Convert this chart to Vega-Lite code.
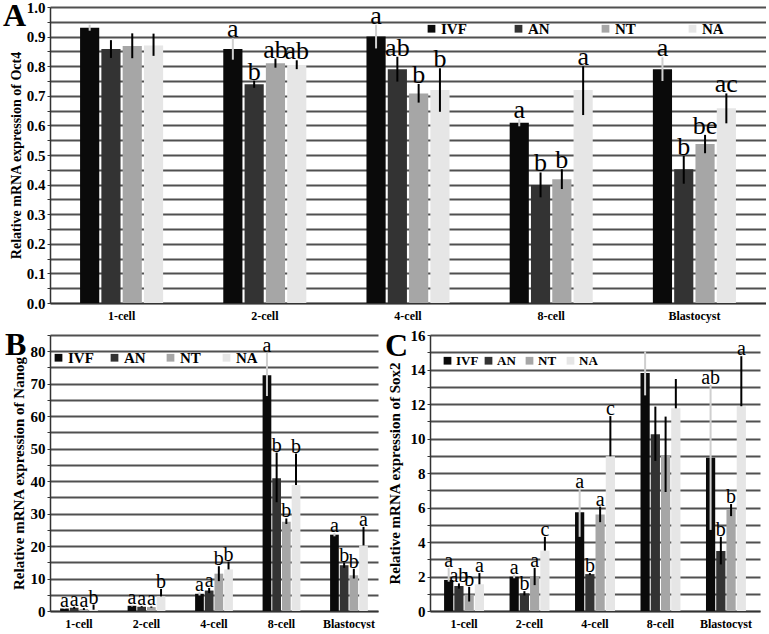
{
"$schema": "https://vega.github.io/schema/vega-lite/v6.json",
"background": "white",
"padding": {"left": 3, "top": 0, "right": 0, "bottom": 0},
"spacing": 7,
"resolve": {"scale": {"color": "independent", "xOffset": "independent"}, "legend": {"color": "independent"}},
"datasets": {
"oct4": [
{"stage":"1-cell","group":"IVF","value":0.93,"lo":0.92,"hi":0.94,"label":""},
{"stage":"1-cell","group":"AN","value":0.858,"lo":0.828,"hi":0.888,"label":""},
{"stage":"1-cell","group":"NT","value":0.868,"lo":0.827,"hi":0.911,"label":""},
{"stage":"1-cell","group":"NA","value":0.87,"lo":0.835,"hi":0.91,"label":""},
{"stage":"2-cell","group":"IVF","value":0.858,"lo":0.822,"hi":0.895,"label":"a"},
{"stage":"2-cell","group":"AN","value":0.739,"lo":0.727,"hi":0.751,"label":"b"},
{"stage":"2-cell","group":"NT","value":0.81,"lo":0.795,"hi":0.826,"label":"ab"},
{"stage":"2-cell","group":"NA","value":0.804,"lo":0.79,"hi":0.82,"label":"ab"},
{"stage":"4-cell","group":"IVF","value":0.9,"lo":0.86,"hi":0.94,"label":"a"},
{"stage":"4-cell","group":"AN","value":0.79,"lo":0.748,"hi":0.832,"label":"ab"},
{"stage":"4-cell","group":"NT","value":0.708,"lo":0.677,"hi":0.74,"label":"b"},
{"stage":"4-cell","group":"NA","value":0.72,"lo":0.646,"hi":0.793,"label":"b"},
{"stage":"8-cell","group":"IVF","value":0.609,"lo":0.597,"hi":0.621,"label":"a"},
{"stage":"8-cell","group":"AN","value":0.399,"lo":0.357,"hi":0.441,"label":"b"},
{"stage":"8-cell","group":"NT","value":0.418,"lo":0.385,"hi":0.452,"label":"b"},
{"stage":"8-cell","group":"NA","value":0.72,"lo":0.635,"hi":0.8,"label":"a"},
{"stage":"Blastocyst","group":"IVF","value":0.79,"lo":0.75,"hi":0.83,"label":"a"},
{"stage":"Blastocyst","group":"AN","value":0.452,"lo":0.403,"hi":0.497,"label":"b"},
{"stage":"Blastocyst","group":"NT","value":0.537,"lo":0.506,"hi":0.568,"label":"be"},
{"stage":"Blastocyst","group":"NA","value":0.658,"lo":0.607,"hi":0.708,"label":"ac"}
],
"nanog": [
{"stage":"1-cell","group":"IVF","value":0.8,"lo":0.6,"hi":1.0,"label":"a"},
{"stage":"1-cell","group":"AN","value":1.0,"lo":0.7,"hi":1.3,"label":"a"},
{"stage":"1-cell","group":"NT","value":0.6,"lo":0.3,"hi":0.9,"label":"a"},
{"stage":"1-cell","group":"NA","value":0.4,"lo":0.4,"hi":2.0,"label":"b"},
{"stage":"2-cell","group":"IVF","value":1.6,"lo":1.4,"hi":1.8,"label":"a"},
{"stage":"2-cell","group":"AN","value":1.3,"lo":1.1,"hi":1.5,"label":"a"},
{"stage":"2-cell","group":"NT","value":1.2,"lo":1.0,"hi":1.4,"label":"a"},
{"stage":"2-cell","group":"NA","value":4.5,"lo":4.5,"hi":6.8,"label":"b"},
{"stage":"4-cell","group":"IVF","value":5.3,"lo":4.8,"hi":5.8,"label":"a"},
{"stage":"4-cell","group":"AN","value":6.3,"lo":5.5,"hi":7.1,"label":"a"},
{"stage":"4-cell","group":"NT","value":11.5,"lo":9.2,"hi":13.8,"label":"b"},
{"stage":"4-cell","group":"NA","value":12.8,"lo":12.8,"hi":15.2,"label":"b"},
{"stage":"8-cell","group":"IVF","value":72.6,"lo":66.2,"hi":79.5,"label":"a"},
{"stage":"8-cell","group":"AN","value":40.9,"lo":33.5,"hi":48.8,"label":"b"},
{"stage":"8-cell","group":"NT","value":27.5,"lo":26.8,"hi":28.5,"label":"b"},
{"stage":"8-cell","group":"NA","value":38.8,"lo":38.8,"hi":48.5,"label":"b"},
{"stage":"Blastocyst","group":"IVF","value":23.5,"lo":23.0,"hi":24.0,"label":"a"},
{"stage":"Blastocyst","group":"AN","value":14.1,"lo":13.3,"hi":14.9,"label":"b"},
{"stage":"Blastocyst","group":"NT","value":11.0,"lo":10.0,"hi":13.0,"label":"b"},
{"stage":"Blastocyst","group":"NA","value":20.2,"lo":20.2,"hi":25.9,"label":"a"}
],
"sox2": [
{"stage":"1-cell","group":"IVF","value":1.8,"lo":1.7,"hi":2.5,"label":"a"},
{"stage":"1-cell","group":"AN","value":1.45,"lo":1.3,"hi":1.6,"label":"ab"},
{"stage":"1-cell","group":"NT","value":0.95,"lo":0.55,"hi":1.4,"label":"b"},
{"stage":"1-cell","group":"NA","value":1.55,"lo":1.55,"hi":2.2,"label":"a"},
{"stage":"2-cell","group":"IVF","value":1.99,"lo":1.9,"hi":2.1,"label":"a"},
{"stage":"2-cell","group":"AN","value":1.02,"lo":0.9,"hi":1.15,"label":"b"},
{"stage":"2-cell","group":"NT","value":2.0,"lo":1.5,"hi":2.5,"label":"a"},
{"stage":"2-cell","group":"NA","value":3.5,"lo":3.5,"hi":4.3,"label":"c"},
{"stage":"4-cell","group":"IVF","value":5.72,"lo":4.3,"hi":7.1,"label":"a"},
{"stage":"4-cell","group":"AN","value":2.14,"lo":2.08,"hi":2.2,"label":"b"},
{"stage":"4-cell","group":"NT","value":5.6,"lo":5.15,"hi":6.05,"label":"a"},
{"stage":"4-cell","group":"NA","value":8.97,"lo":8.97,"hi":11.3,"label":"c"},
{"stage":"8-cell","group":"IVF","value":13.8,"lo":12.5,"hi":15.05,"label":""},
{"stage":"8-cell","group":"AN","value":10.24,"lo":8.7,"hi":11.85,"label":""},
{"stage":"8-cell","group":"NT","value":9.04,"lo":6.9,"hi":11.27,"label":""},
{"stage":"8-cell","group":"NA","value":11.75,"lo":11.75,"hi":13.45,"label":""},
{"stage":"Blastocyst","group":"IVF","value":8.89,"lo":4.7,"hi":13.1,"label":"ab"},
{"stage":"Blastocyst","group":"AN","value":3.48,"lo":2.7,"hi":4.3,"label":"b"},
{"stage":"Blastocyst","group":"NT","value":5.86,"lo":5.5,"hi":6.2,"label":"b"},
{"stage":"Blastocyst","group":"NA","value":11.87,"lo":11.87,"hi":14.77,"label":"a"}
]
},
"vconcat": [
{"hconcat": [
{
"width": 716, "height": 296,
"data": {"name": "oct4"},
"title": {"text": "A", "orient": "none", "anchor": "start", "frame": "group", "dx": -47, "dy": 19, "baseline": "alphabetic", "fontSize": 32, "font": "Liberation Serif", "fontWeight": "bold", "color": "#000"},
"encoding": {
"x": {"field": "stage", "type": "nominal", "sort": ["1-cell","2-cell","4-cell","8-cell","Blastocyst"], "scale": {"paddingInner": 0.42, "paddingOuter": 0.21}, "axis": {"title": null, "ticks": false, "labelAngle": 0, "labelFontSize": 12, "labelPadding": 7, "domainWidth": 1.5}},
"xOffset": {"field": "group", "type": "nominal", "sort": ["IVF","AN","NT","NA"], "scale": {"paddingInner": 0.1}}
},
"layer": [
{"mark": {"type": "bar"},
 "encoding": {
 "y": {"field": "value", "type": "quantitative", "scale": {"domain": [0, 1], "nice": false}, "axis": {"title": "Relative mRNA expression of Oct4", "values": [0,0.05,0.1,0.15,0.2,0.25,0.3,0.35,0.4,0.45,0.5,0.55,0.6,0.65,0.7,0.75,0.8,0.85,0.9,0.95,1.0], "labelExpr": "(round(datum.value*100) % 10 == 0) ? format(datum.value, '.1f') : ''", "labelFontSize": 15, "titleFontSize": 14, "titlePadding": 3, "labelPadding": 2}},
 "color": {"field": "group", "type": "nominal", "sort": ["IVF","AN","NT","NA"], "scale": {"domain": ["IVF","AN","NT","NA"], "range": ["#0a0a0a","#333333","#a6a6a6","#e6e6e6"]},
   "legend": {"orient": "none", "legendX": 374, "legendY": 14, "direction": "horizontal", "title": null, "labelFontSize": 15, "columnPadding": 44, "gridAlign": "all"}}
 }},
{"mark": {"type": "rule", "strokeWidth": 2},
 "encoding": {
 "y": {"field": "lo", "type": "quantitative", "axis": {"title": "Relative mRNA expression of Oct4", "values": [0,0.05,0.1,0.15,0.2,0.25,0.3,0.35,0.4,0.45,0.5,0.55,0.6,0.65,0.7,0.75,0.8,0.85,0.9,0.95,1.0], "labelExpr": "(round(datum.value*100) % 10 == 0) ? format(datum.value, '.1f') : ''", "labelFontSize": 15, "titleFontSize": 14, "titlePadding": 3, "labelPadding": 2}},
 "y2": {"field": "hi"},
 "color": {"condition": {"test": "datum.group === 'IVF'", "value": "#cfcfcf"}, "value": "#000"}
 }},
{"mark": {"type": "text", "baseline": "alphabetic", "dy": -1, "font": "Liberation Serif", "fontSize": 26, "color": "#000"},
 "encoding": {
 "y": {"field": "hi", "type": "quantitative", "axis": {"title": "Relative mRNA expression of Oct4", "values": [0,0.05,0.1,0.15,0.2,0.25,0.3,0.35,0.4,0.45,0.5,0.55,0.6,0.65,0.7,0.75,0.8,0.85,0.9,0.95,1.0], "labelExpr": "(round(datum.value*100) % 10 == 0) ? format(datum.value, '.1f') : ''", "labelFontSize": 15, "titleFontSize": 14, "titlePadding": 3, "labelPadding": 2}},
 "text": {"field": "label"}
 }}
]
}
]},
{"hconcat": [
{
"width": 328, "height": 276,
"data": {"name": "nanog"},
"title": {"text": "B", "orient": "none", "anchor": "start", "frame": "group", "dx": -45, "dy": 20, "baseline": "alphabetic", "fontSize": 32, "font": "Liberation Serif", "fontWeight": "bold", "color": "#000"},
"encoding": {
"x": {"field": "stage", "type": "nominal", "sort": ["1-cell","2-cell","4-cell","8-cell","Blastocyst"], "scale": {"paddingInner": 0.44, "paddingOuter": 0.15}, "axis": {"title": null, "ticks": false, "labelAngle": 0, "labelFontSize": 12, "labelPadding": 7, "domainWidth": 1.5}},
"xOffset": {"field": "group", "type": "nominal", "sort": ["IVF","AN","NT","NA"], "scale": {"paddingInner": 0.1}}
},
"layer": [
{"mark": {"type": "bar"},
 "encoding": {
 "y": {"field": "value", "type": "quantitative", "scale": {"domain": [0, 85], "nice": false}, "axis": {"title": "Relative mRNA expression of Nanog", "values": [0,5,10,15,20,25,30,35,40,45,50,55,60,65,70,75,80,85], "labelExpr": "(datum.value % 10 == 0) ? datum.label : ''", "labelFontSize": 15, "titleFontSize": 15, "titlePadding": 4, "labelPadding": 2}},
 "color": {"field": "group", "type": "nominal", "sort": ["IVF","AN","NT","NA"], "scale": {"domain": ["IVF","AN","NT","NA"], "range": ["#0a0a0a","#333333","#a6a6a6","#e6e6e6"]},
   "legend": {"orient": "none", "legendX": 1, "legendY": 15, "direction": "horizontal", "title": null, "labelFontSize": 15, "columnPadding": 13, "gridAlign": "all"}}
 }},
{"mark": {"type": "rule", "strokeWidth": 2},
 "encoding": {
 "y": {"field": "lo", "type": "quantitative", "axis": {"title": "Relative mRNA expression of Nanog", "values": [0,5,10,15,20,25,30,35,40,45,50,55,60,65,70,75,80,85], "labelExpr": "(datum.value % 10 == 0) ? datum.label : ''", "labelFontSize": 15, "titleFontSize": 15, "titlePadding": 4, "labelPadding": 2}},
 "y2": {"field": "hi"},
 "color": {"condition": {"test": "datum.group === 'IVF'", "value": "#cfcfcf"}, "value": "#000"}
 }},
{"mark": {"type": "text", "baseline": "alphabetic", "dy": -1, "font": "Liberation Serif", "fontSize": 20, "color": "#000"},
 "encoding": {
 "y": {"field": "hi", "type": "quantitative", "axis": {"title": "Relative mRNA expression of Nanog", "values": [0,5,10,15,20,25,30,35,40,45,50,55,60,65,70,75,80,85], "labelExpr": "(datum.value % 10 == 0) ? datum.label : ''", "labelFontSize": 15, "titleFontSize": 15, "titlePadding": 4, "labelPadding": 2}},
 "text": {"field": "label"}
 }}
]
},
{
"width": 330, "height": 276,
"data": {"name": "sox2"},
"title": {"text": "C", "orient": "none", "anchor": "start", "frame": "group", "dx": -45, "dy": 21, "baseline": "alphabetic", "fontSize": 32, "font": "Liberation Serif", "fontWeight": "bold", "color": "#000"},
"encoding": {
"x": {"field": "stage", "type": "nominal", "sort": ["1-cell","2-cell","4-cell","8-cell","Blastocyst"], "scale": {"paddingInner": 0.39, "paddingOuter": 0.215}, "axis": {"title": null, "ticks": false, "labelAngle": 0, "labelFontSize": 12, "labelPadding": 7, "domainWidth": 1.5}},
"xOffset": {"field": "group", "type": "nominal", "sort": ["IVF","AN","NT","NA"], "scale": {"paddingInner": 0.1}}
},
"layer": [
{"mark": {"type": "bar"},
 "encoding": {
 "y": {"field": "value", "type": "quantitative", "scale": {"domain": [0, 16], "nice": false}, "axis": {"title": "Relative mRNA expression of Sox2", "values": [0,1,2,3,4,5,6,7,8,9,10,11,12,13,14,15,16], "labelExpr": "(datum.value % 2 == 0) ? datum.label : ''", "labelFontSize": 15, "titleFontSize": 15, "titlePadding": 8, "labelPadding": 2}},
 "color": {"field": "group", "type": "nominal", "sort": ["IVF","AN","NT","NA"], "scale": {"domain": ["IVF","AN","NT","NA"], "range": ["#0a0a0a","#333333","#a6a6a6","#e6e6e6"]},
   "legend": {"orient": "none", "legendX": 11, "legendY": 19, "direction": "horizontal", "title": null, "labelFontSize": 13, "columnPadding": 3, "gridAlign": "all"}}
 }},
{"mark": {"type": "rule", "strokeWidth": 2},
 "encoding": {
 "y": {"field": "lo", "type": "quantitative", "axis": {"title": "Relative mRNA expression of Sox2", "values": [0,1,2,3,4,5,6,7,8,9,10,11,12,13,14,15,16], "labelExpr": "(datum.value % 2 == 0) ? datum.label : ''", "labelFontSize": 15, "titleFontSize": 15, "titlePadding": 8, "labelPadding": 2}},
 "y2": {"field": "hi"},
 "color": {"condition": {"test": "datum.group === 'IVF'", "value": "#cfcfcf"}, "value": "#000"}
 }},
{"mark": {"type": "text", "baseline": "alphabetic", "dy": -1, "font": "Liberation Serif", "fontSize": 20, "color": "#000"},
 "encoding": {
 "y": {"field": "hi", "type": "quantitative", "axis": {"title": "Relative mRNA expression of Sox2", "values": [0,1,2,3,4,5,6,7,8,9,10,11,12,13,14,15,16], "labelExpr": "(datum.value % 2 == 0) ? datum.label : ''", "labelFontSize": 15, "titleFontSize": 15, "titlePadding": 8, "labelPadding": 2}},
 "text": {"field": "label"}
 }}
]
}
],
"bounds": "flush",
"spacing": 52,
"resolve": {"scale": {"color": "independent", "xOffset": "independent"}, "legend": {"color": "independent"}}
}
],
"config": {
"font": "Liberation Serif",
"view": {"stroke": null},
"axis": {"labelFont": "Liberation Serif", "titleFont": "Liberation Serif", "labelFontWeight": "bold", "titleFontWeight": "bold", "labelColor": "#000", "titleColor": "#000", "domainColor": "#333", "tickColor": "#333", "tickSize": 3, "gridColor": "#505050", "gridWidth": 2.2},
"axisY": {"grid": true, "domainWidth": 1.5},
"legend": {"labelFont": "Liberation Serif", "labelFontWeight": "bold", "labelColor": "#000", "symbolType": "square", "symbolSize": 60, "symbolStrokeWidth": 0, "labelOffset": 2}
}
}
